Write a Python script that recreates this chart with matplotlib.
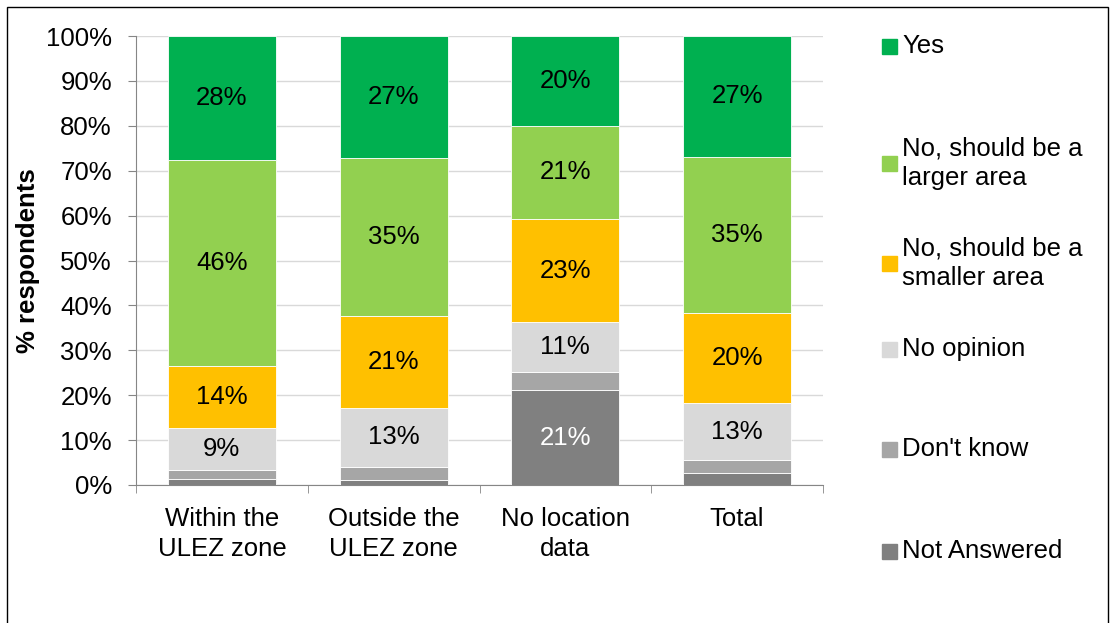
import matplotlib.pyplot as plt
from matplotlib.patches import Rectangle
import numpy as np

plt.rcParams['font.family'] = ['Liberation Sans', 'DejaVu Sans']

categories = ['Within the\nULEZ zone', 'Outside the\nULEZ zone', 'No location\ndata', 'Total']
series = ['Not Answered', "Don't know", 'No opinion',
          'No, should be a\nsmaller area', 'No, should be a\nlarger area', 'Yes']
not_answered = [1.3, 1.1, 21.1, 2.7]
dont_know = [2.0, 3.0, 4.0, 2.9]
no_opinion = [9.4, 13.0, 11.1, 12.6]
smaller = [13.8, 20.6, 23.1, 20.0]
larger = [45.8, 35.1, 20.7, 34.9]
yes = [27.7, 27.2, 20.0, 26.9]
values = [not_answered, dont_know, no_opinion, smaller, larger, yes]
colors = ['#808080', '#A6A6A6', '#D9D9D9', '#FFC000', '#92D050', '#00B050']
# which segments get a label, per series
show_label = [[False, False, True, False], [False] * 4, [True] * 4,
              [True] * 4, [True] * 4, [True] * 4]
label_color = ['white', 'black', 'black', 'black', 'black', 'black']
fs = 18.5

fig = plt.figure(figsize=(11.11, 6.23), dpi=100)
ax = fig.add_axes([136 / 1111, 138 / 623, 687 / 1111, 449 / 623])

x = np.arange(len(categories))
bottom = np.zeros(len(categories))
for i, (name, vals) in enumerate(zip(series, values)):
    vals = np.array(vals)
    ax.bar(x, vals, 0.63, bottom=bottom, color=colors[i], edgecolor='white',
           linewidth=0.6, zorder=3)
    for j in range(len(x)):
        if show_label[i][j]:
            ax.text(x[j], bottom[j] + vals[j] / 2, '%d%%' % round(vals[j]),
                    ha='center', va='center', fontsize=fs, color=label_color[i], zorder=4)
    bottom += vals

ax.set_xlim(-0.5, 3.5)
ax.set_ylim(0, 100)
ax.set_yticks(np.arange(0, 101, 10))
ax.set_yticklabels(['%d%%' % v for v in range(0, 101, 10)], fontsize=fs)
ax.set_xticks(x)
ax.set_xticklabels(categories, fontsize=fs, linespacing=1.32)
ax.set_xticks(np.arange(-0.5, 4, 1), minor=True)
ax.tick_params(axis='x', which='major', length=0, pad=16)
ax.tick_params(axis='x', which='minor', length=5.8, color='#868686')
ax.tick_params(axis='y', length=5.8, color='#868686', pad=11.5)
ax.grid(axis='y', color='#D9D9D9', linewidth=1, zorder=0)
for s in ['top', 'right']:
    ax.spines[s].set_visible(False)
for s in ['left', 'bottom']:
    ax.spines[s].set_color('#868686')
ax.set_ylabel('% respondents', fontsize=fs, fontweight='bold')
ax.yaxis.set_label_coords(-0.1397, 0.5)

# legend, top to bottom
leg_y = [46, 163, 263, 349, 449, 551]
for k, y in enumerate(leg_y):
    i = len(series) - 1 - k
    fig.patches.append(Rectangle((882 / 1111, 1 - (y + 8) / 623), 15 / 1111, 15 / 623,
                                 transform=fig.transFigure, color=colors[i]))
    fig.text(902 / 1111, 1 - y / 623, series[i], fontsize=fs, va='center', ha='left',
             linespacing=1.3)

fig.patches.append(Rectangle((7 / 1111, -0.01), 1101 / 1111, 1 - 7 / 623 + 0.01,
                             transform=fig.transFigure, fill=False, edgecolor='black',
                             linewidth=1))

fig.savefig('out.png', dpi=100)
